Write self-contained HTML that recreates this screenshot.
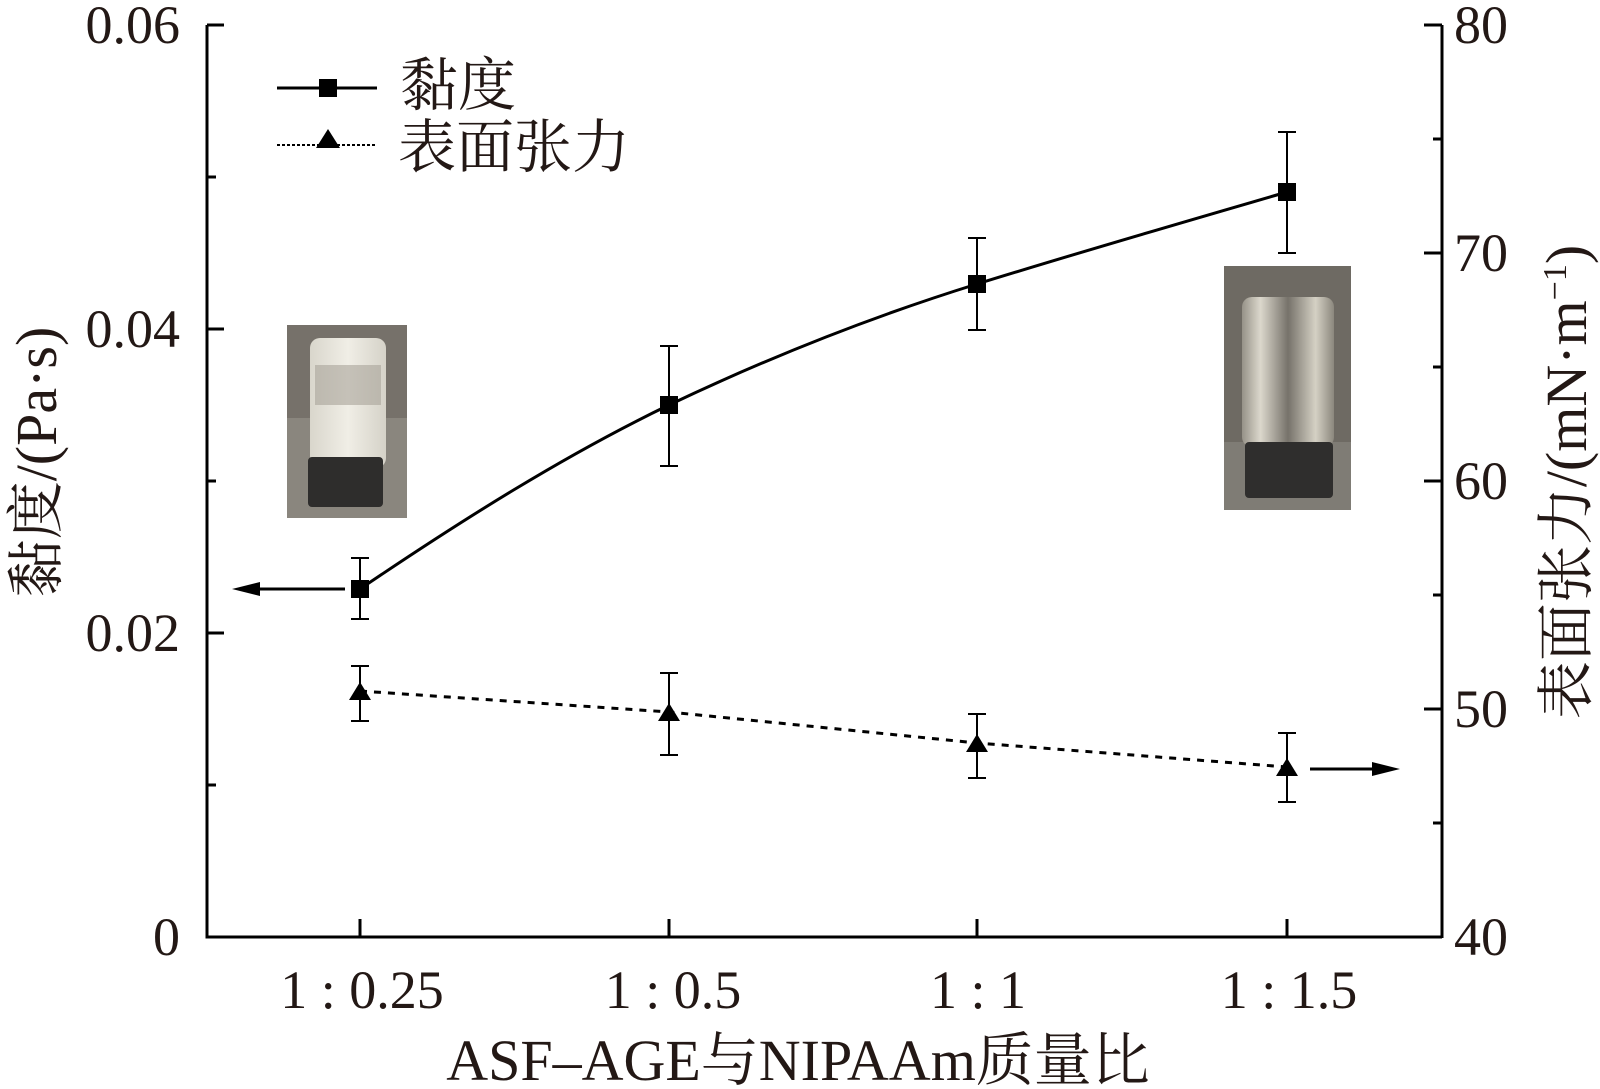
<!DOCTYPE html>
<html><head><meta charset="utf-8"><style>
html,body{margin:0;padding:0;background:#fff;}
svg{display:block;}
.n{font-family:"Liberation Serif",serif;font-size:54px;fill:#231815;}
.c{font-family:"Liberation Serif","Noto Serif CJK SC",serif;fill:#231815;}
</style></head><body>
<svg width="1600" height="1089" viewBox="0 0 1600 1089" xmlns="http://www.w3.org/2000/svg">
<defs>
<linearGradient id="bw" x1="0" x2="1"><stop offset="0" stop-color="#d9d6cc"/><stop offset="0.5" stop-color="#f0eee6"/><stop offset="1" stop-color="#d5d2c8"/></linearGradient>
<linearGradient id="gl" x1="0" x2="1"><stop offset="0" stop-color="#9a968c"/><stop offset="0.2" stop-color="#e8e4d8"/><stop offset="0.5" stop-color="#77736b"/><stop offset="0.8" stop-color="#e0dccf"/><stop offset="1" stop-color="#8e8a80"/></linearGradient>
</defs>
<!-- photo 1 -->
<rect x="287" y="325" width="120" height="193" fill="#76716a"/>
<rect x="287" y="418" width="120" height="100" fill="#8a867e"/>
<rect x="310" y="338" width="76" height="130" rx="10" fill="url(#bw)"/>
<rect x="315" y="365" width="66" height="40" fill="#a8a49a" opacity="0.6"/>
<rect x="308" y="457" width="75" height="50" rx="4" fill="#2e2d2c"/>
<!-- photo 2 -->
<rect x="1224" y="266" width="127" height="244" fill="#6e6a63"/>
<rect x="1224" y="442" width="127" height="68" fill="#7f7c75"/>
<rect x="1242" y="297" width="92" height="150" rx="10" fill="url(#gl)" opacity="0.9"/>
<rect x="1245" y="442" width="88" height="56" rx="4" fill="#2f2e2d"/>
<!-- axes -->
<g stroke="#000" stroke-width="3" fill="none">
<line x1="207" y1="25" x2="207" y2="938"/>
<line x1="205.5" y1="937" x2="1442" y2="937"/>
<line x1="1442" y1="25" x2="1442" y2="938"/>
<line x1="207" y1="25" x2="224" y2="25"/><line x1="207" y1="329" x2="224" y2="329"/><line x1="207" y1="633" x2="224" y2="633"/>
<line x1="207" y1="177" x2="216" y2="177"/><line x1="207" y1="481" x2="216" y2="481"/><line x1="207" y1="785" x2="216" y2="785"/>
<line x1="1424" y1="25" x2="1442" y2="25"/><line x1="1424" y1="253" x2="1442" y2="253"/><line x1="1424" y1="481" x2="1442" y2="481"/><line x1="1424" y1="709" x2="1442" y2="709"/>
<line x1="1433" y1="139" x2="1442" y2="139"/><line x1="1433" y1="367" x2="1442" y2="367"/><line x1="1433" y1="595" x2="1442" y2="595"/><line x1="1433" y1="823" x2="1442" y2="823"/>
<line x1="360" y1="937" x2="360" y2="919"/><line x1="669" y1="937" x2="669" y2="919"/><line x1="977" y1="937" x2="977" y2="919"/><line x1="1287" y1="937" x2="1287" y2="919"/>
</g>
<g class="n" text-anchor="end">
<text x="180" y="43">0.06</text><text x="180" y="347">0.04</text><text x="180" y="651">0.02</text><text x="180" y="955">0</text>
</g>
<g class="n">
<text x="1454" y="43">80</text><text x="1454" y="271">70</text><text x="1454" y="499">60</text><text x="1454" y="727">50</text><text x="1454" y="955">40</text>
</g>
<g class="n" text-anchor="middle">
<text x="362" y="1008">1 : 0.25</text><text x="673" y="1008">1 : 0.5</text><text x="978" y="1008">1 : 1</text><text x="1289" y="1008">1 : 1.5</text>
</g>
<text class="c" x="798" y="1080" font-size="58" text-anchor="middle">ASF–AGE与NIPAAm质量比</text>
<text class="c" font-size="58" text-anchor="middle" transform="translate(56,462) rotate(-90)">黏度/(Pa·s)</text>
<text class="c" font-size="58" text-anchor="middle" transform="translate(1586,482) rotate(-90)">表面张力/(mN·m<tspan font-size="34" dy="-20">−1</tspan><tspan dy="20">)</tspan></text>
<g stroke="#000" stroke-width="2">
<line x1="360" y1="558" x2="360" y2="619"/><line x1="351" y1="558" x2="369" y2="558"/><line x1="351" y1="619" x2="369" y2="619"/>
<line x1="669" y1="346" x2="669" y2="466"/><line x1="660" y1="346" x2="678" y2="346"/><line x1="660" y1="466" x2="678" y2="466"/>
<line x1="977" y1="238" x2="977" y2="330"/><line x1="968" y1="238" x2="986" y2="238"/><line x1="968" y1="330" x2="986" y2="330"/>
<line x1="1287" y1="132" x2="1287" y2="253"/><line x1="1278" y1="132" x2="1296" y2="132"/><line x1="1278" y1="253" x2="1296" y2="253"/>
<line x1="360" y1="666" x2="360" y2="721"/><line x1="351" y1="666" x2="369" y2="666"/><line x1="351" y1="721" x2="369" y2="721"/>
<line x1="669" y1="673" x2="669" y2="755"/><line x1="660" y1="673" x2="678" y2="673"/><line x1="660" y1="755" x2="678" y2="755"/>
<line x1="977" y1="714" x2="977" y2="778"/><line x1="968" y1="714" x2="986" y2="714"/><line x1="968" y1="778" x2="986" y2="778"/>
<line x1="1287" y1="733" x2="1287" y2="802"/><line x1="1278" y1="733" x2="1296" y2="733"/><line x1="1278" y1="802" x2="1296" y2="802"/>
</g>
<path d="M360,589 C462,520 565,455 669,405 C772,356 874,316 977,284 C1080,252 1184,222 1287,192" stroke="#000" stroke-width="3" fill="none"/>
<path d="M360,691 L669,712 L977,743 L1287,767" stroke="#000" stroke-width="3" fill="none" stroke-dasharray="7,7"/>
<g fill="#000">
<rect x="351" y="580" width="18" height="18"/><rect x="660" y="396" width="18" height="18"/><rect x="968" y="275" width="18" height="18"/><rect x="1278" y="183" width="18" height="18"/>
<polygon points="360,682 371,700 349,700"/><polygon points="669,703 680,721 658,721"/><polygon points="977,734 988,752 966,752"/><polygon points="1287,758 1298,776 1276,776"/>
</g>
<line x1="345" y1="589" x2="255" y2="589" stroke="#000" stroke-width="3"/>
<polygon points="232,589 260,582 260,596" fill="#000"/>
<line x1="1310" y1="769" x2="1375" y2="769" stroke="#000" stroke-width="3"/>
<polygon points="1400,769 1372,762 1372,776" fill="#000"/>
<line x1="277" y1="88" x2="377" y2="88" stroke="#000" stroke-width="3"/>
<rect x="319" y="79" width="18" height="18" fill="#000"/>
<line x1="277" y1="145" x2="377" y2="145" stroke="#000" stroke-width="2" stroke-dasharray="3,2"/>
<polygon points="328,129 340,148 316,148" fill="#000"/>
<text class="c" x="400" y="105" font-size="58">黏度</text>
<text class="c" x="398" y="167" font-size="58">表面张力</text>
</svg>
</body></html>
